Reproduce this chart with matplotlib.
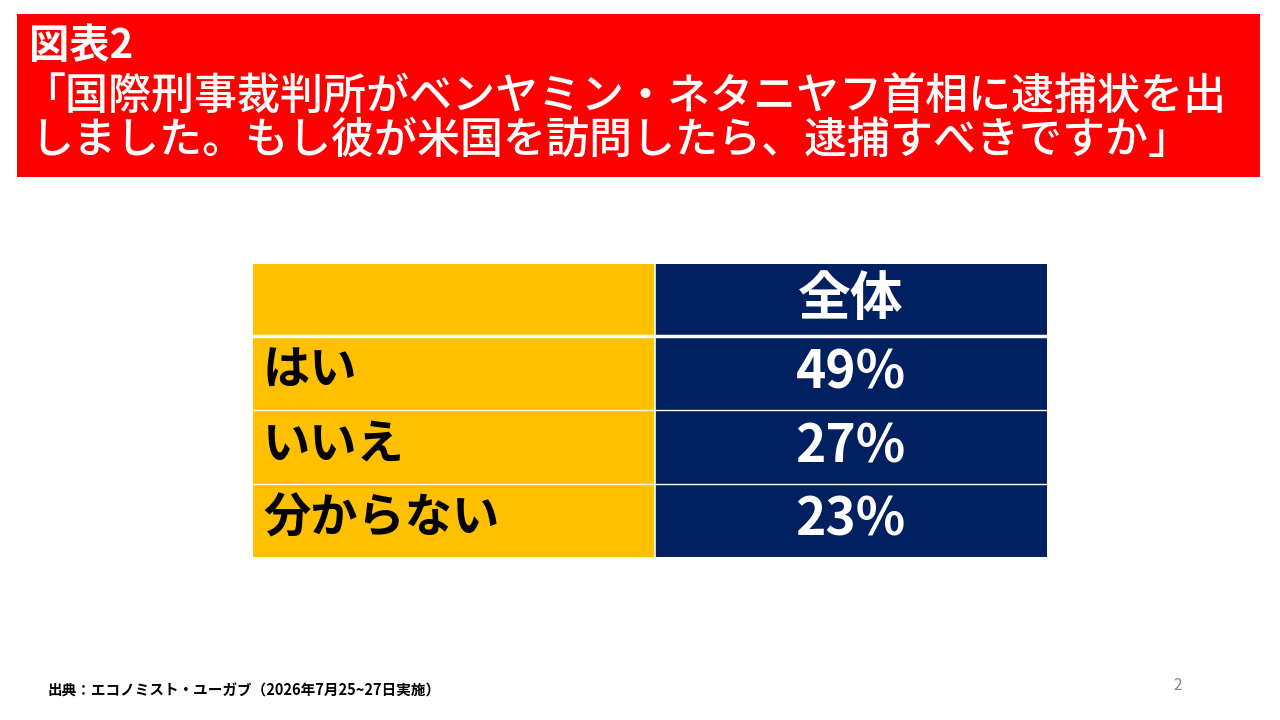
import matplotlib
matplotlib.use("Agg")
import matplotlib.pyplot as plt
from matplotlib.patches import Rectangle

plt.rcParams['font.family'] = ['Noto Sans CJK JP', 'DejaVu Sans']

# data
title_lines = ["図表2",
               "「国際刑事裁判所がベンヤミン・ネタニヤフ首相に逮捕状を出",
               "しました。もし彼が米国を訪問したら、逮捕すべきですか」"]
header = "全体"
answers = ["はい", "いいえ", "分からない"]
shares = [49, 27, 23]
source = "出典：エコノミスト・ユーガブ（2026年7月25~27日実施）"
page_no = "2"

RED = "#FF0000"
YELLOW = "#FFC000"
NAVY = "#002060"

fig = plt.figure(figsize=(12.8, 7.2), dpi=100)
ax = fig.add_axes([0, 0, 1, 1])
ax.set_xlim(0, 1280)
ax.set_ylim(720, 0)
ax.axis('off')

# red title banner
ax.add_patch(Rectangle((17, 14), 1243, 163, color=RED, lw=0))
ax.text(29, 47, title_lines[0], color='white', fontsize=29, fontweight='bold',
        va='center', ha='left')
ax.text(22, 97, title_lines[1], color='white', fontsize=31, fontweight='medium',
        va='center', ha='left')
ax.text(30, 140, title_lines[2], color='white', fontsize=31, fontweight='medium',
        va='center', ha='left')

# table
x0, xm, x1 = 253, 654.5, 1047
row_edges = [264, 336, 410, 483.5, 557]
for i in range(len(row_edges) - 1):
    top, bot = row_edges[i], row_edges[i + 1]
    ax.add_patch(Rectangle((x0, top), xm - x0, bot - top, color=YELLOW, lw=0))
    ax.add_patch(Rectangle((xm, top), x1 - xm, bot - top, color=NAVY, lw=0))
# grid lines
ax.plot([xm, xm], [row_edges[0], row_edges[-1]], color='white', lw=1.2)
ax.plot([x0, x1], [row_edges[1], row_edges[1]], color='white', lw=2.5)
for y in row_edges[2:-1]:
    ax.plot([x0, x1], [y, y], color='white', lw=1.0)

cx = (xm + x1) / 2
ax.text(cx, (row_edges[0] + row_edges[1]) / 2, header, color='white',
        fontsize=38, fontweight='bold', ha='center', va='center')
for i, (a, s) in enumerate(zip(answers, shares)):
    yc = (row_edges[i + 1] + row_edges[i + 2]) / 2
    ax.text(263, yc - 2, a, color='black', fontsize=34, fontweight='bold',
            ha='left', va='center')
    ax.text(cx, yc, f"{s}%", color='white', fontsize=37, fontweight='bold',
            ha='center', va='center')

# footer
ax.text(48, 691, source, color='black', fontsize=10.5, fontweight='bold',
        ha='left', va='center')
ax.text(1178, 686, page_no, color='#888888', fontsize=11, ha='center', va='center')

fig.savefig("out.png", dpi=100)
